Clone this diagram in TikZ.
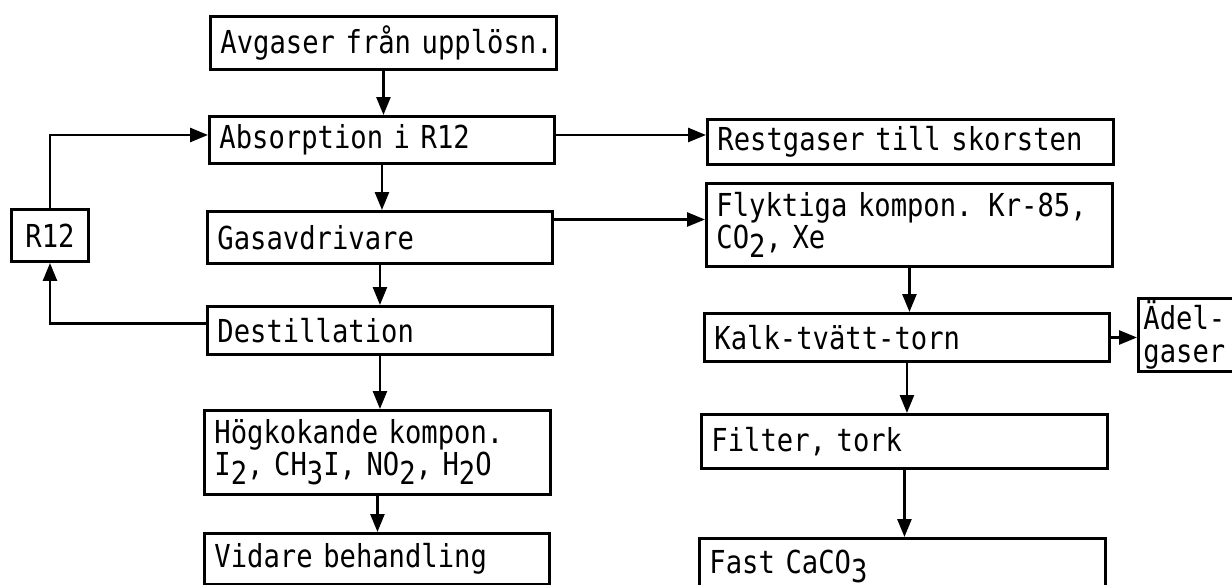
\documentclass[tikz,border=0pt]{standalone}
\usepackage{fontspec}
\newfontfamily\typew[FakeStretch=0.86]{DejaVu Sans Mono}
\usetikzlibrary{arrows.meta}
\newcommand{\lowr}[1]{\raisebox{-5pt}{#1}}
\setlength{\lineskiplimit}{-20pt}

\begin{document}
\begin{tikzpicture}[x=0.02cm, y=-0.02cm,
        box/.style={draw, line width=1.7pt, anchor=north west, align=left,
            inner xsep=0.2cm, inner ysep=0pt},
        flow/.style={-{Triangle[length=3.6mm, width=2.8mm]}, line width=1.5pt},
        every node/.style={font=\typew\fontsize{18}{16}\selectfont}]
        \path[use as bounding box] (0,0) rectangle (1232,585);
        \clip (0,0) rectangle (1232,585);
        % left column
        \node[box, text width=6.52cm, minimum height=1.06cm] (avg) at (209,15) {\mbox{Avgaser från upplösn.}};
        \node[box, text width=6.5cm, minimum height=0.94cm] (abs) at (208,115) {Absorption i R12};
        \node[box, text width=6.5cm, minimum height=1.04cm] (gas) at (206,210) {Gasavdrivare};
        \node[box, text width=6.5cm, minimum height=0.96cm] (des) at (206,305) {Destillation};
        \node[box, text width=6.52cm, minimum height=1.68cm] (hog) at (203,409)
            {Högkokande kompon.\\I\lowr{2}, CH\lowr{3}I, NO\lowr{2}, H\lowr{2}O};
        \node[box, text width=6.5cm, minimum height=1.02cm] (vid) at (203,532) {Vidare behandling};
        \node[box, align=center, text width=1.14cm, minimum height=1.04cm] (r12) at (10,208) {R12};
        % right column
        \node[box, text width=7.72cm, minimum height=0.9cm] (rest) at (706,118) {Restgaser till skorsten};
        \node[box, text width=7.72cm, minimum height=1.66cm] (fly) at (705,182)
            {Flyktiga kompon. Kr-85,\\CO\lowr{2}, Xe};
        \node[box, text width=7.7cm, minimum height=0.96cm] (kalk) at (703,312) {Kalk-tvätt-torn};
        \node[box, inner xsep=0.1cm, text width=2.1cm, minimum height=1.46cm,
            font=\typew\fontsize{18}{19}\selectfont] (adel) at (1137,297) {Ädel-\\gaser};
        \node[box, text width=7.72cm, minimum height=1.08cm] (fil) at (700,413) {Filter, tork};
        \node[box, text width=7.72cm, minimum height=1.12cm] (fast) at (698,537) {Fast CaCO\lowr{3}};

        \coordinate (a1) at ([yshift=0.1cm]abs.east);
        \coordinate (a2) at ([yshift=0.1cm]abs.west);
        \coordinate (g1) at ([yshift=0.36cm]gas.east);
        \coordinate (d1) at ([yshift=0.14cm]des.west);

        \draw[flow] (avg.south) -- (avg.south |- abs.north);
        \draw[flow] (abs.south) -- (abs.south |- gas.north);
        \draw[flow] (gas.south) -- (gas.south |- des.north);
        \draw[flow] (des.south) -- (des.south |- hog.north);
        \draw[flow] (hog.south) -- (hog.south |- vid.north);
        \draw[flow] (a1) -- (a1 -| rest.west);
        \draw[flow] (g1) -- (g1 -| fly.west);
        \draw[flow] (d1) -| (r12.south);
        \draw[flow] (r12.north) |- (a2);
        \draw[flow] (fly.south) -- (fly.south |- kalk.north);
        \draw[flow] (kalk.east) -- (kalk.east -| adel.west);
        \draw[flow] (kalk.south) -- (kalk.south |- fil.north);
        \draw[flow] (fil.south) -- (fil.south |- fast.north);
    \end{tikzpicture}
\end{document}
